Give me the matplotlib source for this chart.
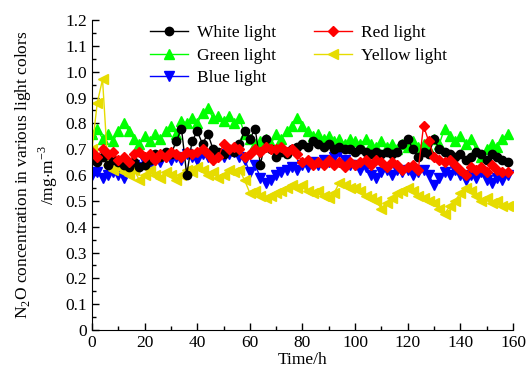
import numpy as np
import matplotlib
matplotlib.use("Agg")
import matplotlib.pyplot as plt
from matplotlib.ticker import MultipleLocator, FuncFormatter

plt.rcParams['font.family'] = ['Liberation Serif', 'DejaVu Serif']
plt.rcParams['mathtext.fontset'] = 'custom'
plt.rcParams['mathtext.rm'] = 'Liberation Serif'

# sampling every 2 h
hours = np.arange(0, 160, 2)

white = [0.66, 0.65, 0.67, 0.64, 0.66, 0.65, 0.64, 0.63, 0.65, 0.63,
         0.64, 0.66, 0.68, 0.67, 0.69, 0.68, 0.73, 0.78, 0.60, 0.73,
         0.77, 0.72, 0.76, 0.70, 0.69, 0.68, 0.70, 0.69, 0.72, 0.77,
         0.74, 0.78, 0.64, 0.74, 0.70, 0.67, 0.69, 0.68, 0.70, 0.71,
         0.72, 0.71, 0.73, 0.72, 0.71, 0.72, 0.70, 0.71, 0.70, 0.70,
         0.69, 0.70, 0.69, 0.68, 0.69, 0.68, 0.69, 0.68, 0.69, 0.72,
         0.74, 0.70, 0.67, 0.69, 0.68, 0.74, 0.70, 0.69, 0.68, 0.67,
         0.68, 0.66, 0.67, 0.69, 0.68, 0.66, 0.68, 0.67, 0.66, 0.65]

red = [0.69, 0.67, 0.70, 0.68, 0.69, 0.66, 0.67, 0.65, 0.68, 0.69,
       0.67, 0.68, 0.66, 0.68, 0.67, 0.69, 0.68, 0.67, 0.69, 0.68,
       0.69, 0.70, 0.68, 0.66, 0.67, 0.72, 0.70, 0.71, 0.70, 0.67,
       0.68, 0.70, 0.69, 0.71, 0.70, 0.70, 0.71, 0.69, 0.70, 0.68,
       0.65, 0.66, 0.64, 0.65, 0.64, 0.66, 0.64, 0.65, 0.63, 0.65,
       0.64, 0.65, 0.66, 0.64, 0.66, 0.65, 0.63, 0.65, 0.64, 0.62,
       0.63, 0.64, 0.62, 0.79, 0.73, 0.67, 0.66, 0.65, 0.66, 0.64,
       0.62, 0.60, 0.63, 0.62, 0.63, 0.61, 0.64, 0.62, 0.61, 0.61]

green = [0.76, 0.78, 0.74, 0.76, 0.73, 0.77, 0.80, 0.77, 0.74, 0.72,
         0.75, 0.73, 0.76, 0.74, 0.77, 0.79, 0.76, 0.81, 0.80, 0.82,
         0.80, 0.84, 0.86, 0.82, 0.83, 0.81, 0.83, 0.80, 0.82, 0.76,
         0.74, 0.72, 0.73, 0.74, 0.72, 0.76, 0.74, 0.77, 0.79, 0.82,
         0.79, 0.77, 0.75, 0.76, 0.74, 0.75, 0.73, 0.74, 0.72, 0.74,
         0.73, 0.72, 0.74, 0.72, 0.71, 0.73, 0.71, 0.72, 0.70, 0.72,
         0.71, 0.73, 0.71, 0.72, 0.70, 0.74, 0.72, 0.78, 0.75, 0.73,
         0.75, 0.72, 0.74, 0.70, 0.67, 0.70, 0.72, 0.71, 0.74, 0.76]

yellow = [0.70, 0.88, 0.97, 0.64, 0.62, 0.63, 0.61, 0.60, 0.62, 0.58,
          0.60, 0.62, 0.60, 0.59, 0.61, 0.60, 0.58, 0.60, 0.62, 0.61,
          0.63, 0.62, 0.60, 0.61, 0.59, 0.60, 0.62, 0.61, 0.62, 0.58,
          0.53, 0.54, 0.52, 0.51, 0.52, 0.53, 0.54, 0.55, 0.56, 0.55,
          0.56, 0.54, 0.53, 0.54, 0.52, 0.51, 0.53, 0.57, 0.56, 0.55,
          0.55, 0.54, 0.52, 0.51, 0.50, 0.47, 0.49, 0.51, 0.53, 0.54,
          0.55, 0.54, 0.52, 0.51, 0.50, 0.49, 0.47, 0.45, 0.48, 0.50,
          0.53, 0.55, 0.54, 0.52, 0.50, 0.51, 0.49, 0.50, 0.48, 0.48]

blue = [0.60, 0.61, 0.59, 0.60, 0.61, 0.60, 0.59, 0.62, 0.64, 0.63,
        0.65, 0.64, 0.66, 0.65, 0.67, 0.66, 0.67, 0.66, 0.68, 0.67,
        0.66, 0.68, 0.67, 0.66, 0.68, 0.67, 0.68, 0.69, 0.67, 0.66,
        0.61, 0.64, 0.59, 0.57, 0.58, 0.60, 0.61, 0.62, 0.63, 0.62,
        0.64, 0.63, 0.65, 0.64, 0.66, 0.65, 0.67, 0.69, 0.66, 0.64,
        0.64, 0.62, 0.63, 0.60, 0.59, 0.61, 0.62, 0.60, 0.62, 0.61,
        0.62, 0.60, 0.61, 0.62, 0.60, 0.56, 0.59, 0.61, 0.60, 0.62,
        0.60, 0.58, 0.60, 0.59, 0.61, 0.58, 0.57, 0.59, 0.58, 0.60]

fig = plt.figure(figsize=(5.27, 3.76), dpi=100)
ax = fig.add_axes([0.1746, 0.1223, 0.7988, 0.8245])

ax.plot(hours, green, '-^', color='#00ff00', ms=6.5, lw=1, label='Green light')
ax.plot(hours, blue, '-v', color='#0000ff', ms=6.5, lw=1, label='Blue light')
ax.plot(hours, yellow, '-<', color='#e6dc00', ms=6.5, lw=1, label='Yellow light')
ax.plot(hours, white, '-o', color='black', ms=6, lw=1, label='White light')
ax.plot(hours, red, '-D', color='#ff0000', ms=5, lw=1, label='Red light')

ax.set_xlim(0, 160)
ax.set_ylim(0, 1.2)
ax.xaxis.set_major_locator(MultipleLocator(20))
ax.xaxis.set_minor_locator(MultipleLocator(10))
ax.yaxis.set_major_locator(MultipleLocator(0.1))
ax.yaxis.set_minor_locator(MultipleLocator(0.05))
ax.yaxis.set_major_formatter(FuncFormatter(lambda v, p: '0' if abs(v) < 1e-9 else '%.1f' % v))

ax.spines['top'].set_visible(False)
ax.spines['right'].set_visible(False)
ax.tick_params(which='both', direction='in', labelsize=12.5, width=1)
ax.tick_params(which='major', length=5)
ax.tick_params(which='minor', length=3)

ax.set_xlabel('Time/h', fontsize=12.5, labelpad=1)
ax.set_ylabel('N$_2$O concentration in various light colors\n/mg$\\cdot$m$^{-3}$',
              fontsize=12.5, labelpad=4)

# legend: White, Red / Green, Yellow / Blue
h, l = ax.get_legend_handles_labels()
order = [3, 0, 1, 4, 2]
ax.legend([h[i] for i in order], [l[i] for i in order], ncol=2, frameon=False,
          loc='upper left', bbox_to_anchor=(0.10, 1.035), fontsize=12.5,
          handlelength=2.2, labelspacing=0.38, columnspacing=2.2, handletextpad=0.5)

fig.savefig('out.png', dpi=100)
